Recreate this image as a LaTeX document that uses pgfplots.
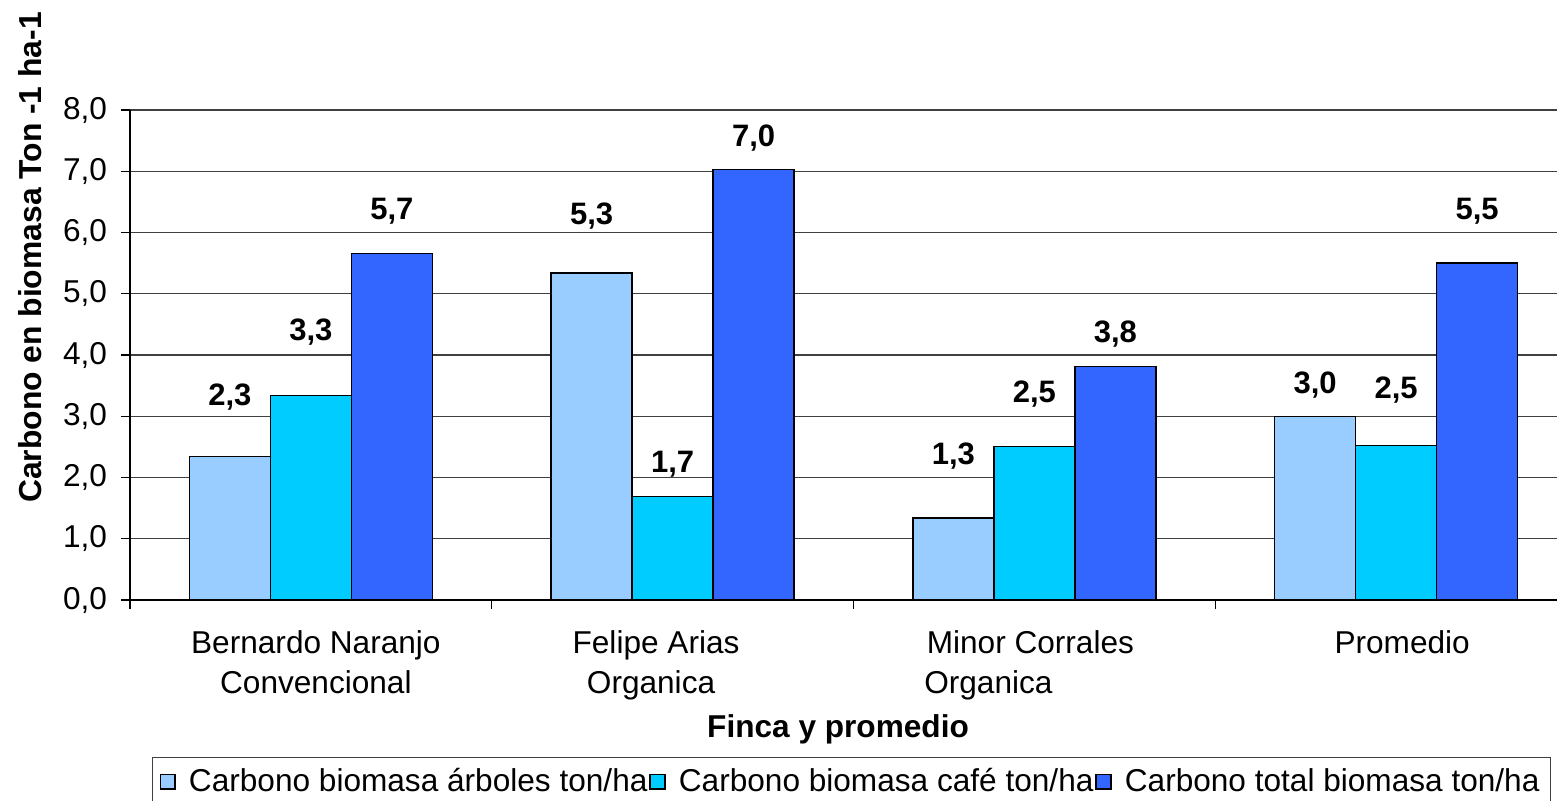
\documentclass[border=0pt]{standalone}
\usepackage{pgfplots}
\usepackage{pgfplotstable}
\pgfplotsset{compat=1.18}
\usepackage{fontspec}
\setmainfont{Liberation Sans}
\definecolor{cA}{HTML}{99CCFF}
\definecolor{cB}{HTML}{00CCFF}
\definecolor{cC}{HTML}{3366FF}

% bars: x = group index + offset, v = value
\pgfplotstableread{
x v
-0.2239 2.34
0.7761 5.34
1.7761 1.34
2.7761 3.00
}\serA
\pgfplotstableread{
x v
0 3.34
1 1.69
2 2.51
3 2.52
}\serB
\pgfplotstableread{
x v
0.2239 5.66
1.2239 7.03
2.2239 3.81
3.2239 5.50
}\serC
% data labels: x, label centre height ly, value v
\pgfplotstableread{
x ly v
-0.2239 3.31 2.34
0.7761 6.27 5.34
1.7761 2.35 1.34
2.7761 3.51 3.00
0 4.37 3.34
1 2.21 1.69
2 3.37 2.51
3 3.43 2.52
0.2239 6.35 5.66
1.2239 7.54 7.03
2.2239 4.34 3.81
3.2239 6.35 5.50
}\labs

\begin{document}
\begin{tikzpicture}
\begin{axis}[
  scale only axis,
  width=723.5pt, height=245pt,
  xmin=-0.5, xmax=3.5,
  ymin=0, ymax=8,
  clip=false,
  axis x line=bottom, axis y line=left,
  axis line style={-, black, line width=0.6pt},
  ytick={0,1,...,8},
  ymajorgrids,
  grid style={black!75, line width=0.6pt},
  tick align=outside,
  major tick length=4.5pt,
  tick style={black, line width=0.6pt},
  xtick={-0.5,0.5,1.5,2.5,3.5},
  xticklabels={},
  extra x ticks={0,1,2,3},
  extra x tick labels={
    {\hspace*{5pt}Bernardo Naranjo\\\hspace*{5pt}Convencional},
    {Felipe Arias\hspace*{16.6pt}\\Organica\hspace*{21.6pt}},
    {Minor Corrales\hspace*{4pt}\\Organica\hspace*{46pt}},
    {\hspace*{6pt}Promedio}},
  extra x tick style={major tick length=0pt, grid=none,
     xticklabel style={align=center, font=\fontsize{15.8}{20}\selectfont, anchor=north, yshift=-12pt}},
  yticklabel style={font=\fontsize{15.8}{19}\selectfont, xshift=-3.5pt},
  /pgf/number format/.cd, fixed, fixed zerofill, precision=1, use comma, assume math mode=true,
  /pgfplots/.cd,
  ylabel={Carbono en biomasa Ton -1 ha-1},
  ylabel style={font=\fontsize{15.9}{19}\bfseries, at={(axis description cs:-0.0691,0.699)}, anchor=center, rotate=0},
  xlabel={Finca y promedio},
  xlabel style={font=\fontsize{15.8}{19}\bfseries, at={(axis description cs:0.4893,-0.2796)}, anchor=base},
  legend columns=3,
  legend style={at={(axis description cs:0.0152,-0.3204)}, anchor=north west,
    draw=black!75, line width=0.6pt, font=\fontsize{15.8}{19}\selectfont,
    inner ysep=3.5pt, inner xsep=3.5pt,
    /tikz/every even column/.append style={column sep=-1pt},
    /tikz/every odd column/.append style={column sep=4.5pt}},
  legend image code/.code={\draw[#1, draw=black, line width=0.8pt] (0pt,-3.7pt) rectangle (7.4pt,3.7pt);},
]
\addplot[ybar, bar width=0.2239, bar shift=0pt, fill=cA, draw=black, line width=0.7pt] table[x=x,y=v]{\serA};
\addlegendentry{Carbono biomasa árboles ton/ha}
\addplot[ybar, bar width=0.2239, bar shift=0pt, fill=cB, draw=black, line width=0.7pt] table[x=x,y=v]{\serB};
\addlegendentry{Carbono biomasa café ton/ha}
\addplot[ybar, bar width=0.2239, bar shift=0pt, fill=cC, draw=black, line width=0.7pt] table[x=x,y=v]{\serC};
\addlegendentry{Carbono total biomasa ton/ha}
\addplot[forget plot, draw=none, mark=none, point meta=explicit,
  nodes near coords={\pgfmathprintnumber[fixed,fixed zerofill,precision=1,use comma]{\pgfplotspointmeta}},
  every node near coord/.append style={anchor=center, font=\fontsize{15.5}{19}\bfseries, inner sep=0pt}]
  table[x=x, y=ly, meta=v]{\labs};
\coordinate (bbl) at (axis cs:-0.8594,-3.2816);
\coordinate (btr) at (axis cs:3.4447,9.796);
\end{axis}
\pgfresetboundingbox
\path[use as bounding box] (bbl) rectangle (btr);
\end{tikzpicture}
\end{document}
